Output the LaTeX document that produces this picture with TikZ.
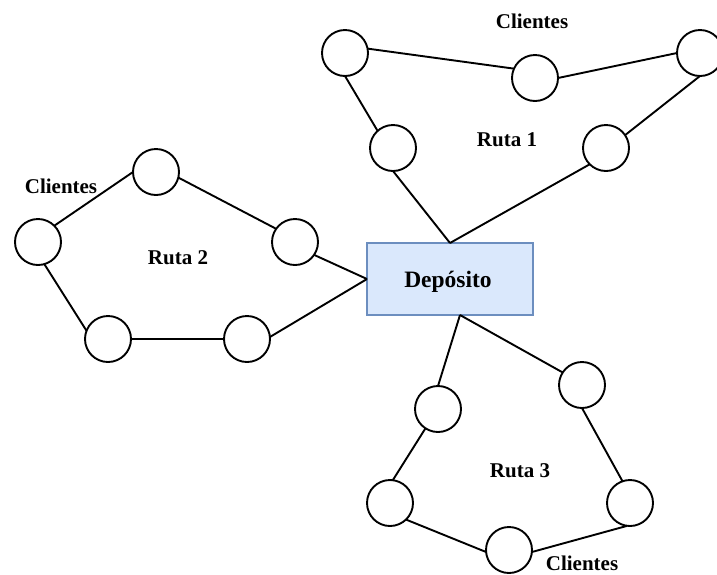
\documentclass[tikz,border=0pt]{standalone}
\usepackage{fontspec}
\setmainfont{Liberation Serif}
\definecolor{depfill}{HTML}{DAE8FC}
\definecolor{depdraw}{HTML}{6C8EBF}
\begin{document}
\begin{tikzpicture}[x=1pt,y=-1pt,
  cliente/.style={circle,draw=black,fill=white,line width=1.9pt,minimum size=46pt,inner sep=0pt,outer sep=0pt},
  deposito/.style={rectangle,draw=depdraw,fill=depfill,line width=1.5pt,minimum width=166pt,minimum height=72pt,inner sep=0pt,outer sep=0pt},
  lbl/.style={anchor=base,inner sep=0pt,font=\fontsize{21}{24}\selectfont\bfseries},
  ruta/.style={line width=1.9pt,black}]
\useasboundingbox (0,0) rectangle (717,574);
% depot
\node[deposito] (dep) at (450,279) {};
\node[anchor=base,inner sep=0pt,font=\fontsize{23.5}{28}\selectfont\bfseries] (deptxt) at (448,287) {Depósito};
\coordinate (depS) at ([xshift=10pt]dep.south);
% route 1
\node[cliente] (a1) at (345,53) {};
\node[cliente] (b1) at (535,78) {};
\node[cliente] (c1) at (700,53) {};
\node[cliente] (d1) at (393,148) {};
\node[cliente] (e1) at (606,148) {};
% route 2
\node[cliente] (f2) at (156,172) {};
\node[cliente] (g2) at (38,242) {};
\node[cliente] (h2) at (295,242) {};
\node[cliente] (i2) at (108,339) {};
\node[cliente] (j2) at (247,339) {};
% route 3
\node[cliente] (k3) at (438,409) {};
\node[cliente] (l3) at (582,385) {};
\node[cliente] (m3) at (390,503) {};
\node[cliente] (n3) at (630,503) {};
\node[cliente] (o3) at (509,550) {};
% edges route 1
\draw[ruta] (dep.north) -- (d1.270);
\draw[ruta] (d1.132) -- (a1.270);
\draw[ruta] (a1.11) -- (b1.156);
\draw[ruta] (b1.0) -- (c1.180);
\draw[ruta] (c1.270) -- (e1.34);
\draw[ruta] (e1.225) -- (dep.north);
% edges route 2
\draw[ruta] (dep.west) -- (h2.326);
\draw[ruta] (h2.145) -- (f2.346);
\draw[ruta] (f2.180) -- (g2.45);
\draw[ruta] (g2.286) -- (i2.159);
\draw[ruta] (i2.0) -- (j2.180);
\draw[ruta] (j2.5) -- (dep.west);
% edges route 3
\draw[ruta] (depS) -- (k3.90);
\draw[ruta] (k3.237) -- (m3.83);
\draw[ruta] (m3.314) -- (o3.185);
\draw[ruta] (o3.355) -- (n3.263);
\draw[ruta] (n3.109) -- (l3.270);
\draw[ruta] (l3.147) -- (depS);
% labels
\node[lbl] (cl1) at (532,28) {Clientes};
\node[lbl] (r1) at (507,146) {Ruta 1};
\node[lbl] (cl2) at (61,193) {Clientes};
\node[lbl] (r2) at (178,264) {Ruta 2};
\node[lbl] (r3) at (520,477) {Ruta 3};
\node[lbl] (cl3) at (582,570) {Clientes};
\end{tikzpicture}
\end{document}
